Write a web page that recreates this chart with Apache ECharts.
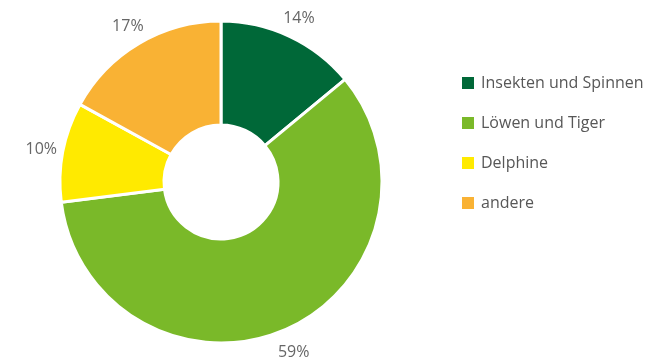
<!DOCTYPE html>
<html>
<head>
<meta charset="utf-8">
<script src="https://cdn.jsdelivr.net/npm/echarts@6/dist/echarts.min.js"></script>
<style>
  html, body { margin: 0; padding: 0; background: #fff; }
  #chart { width: 652px; height: 359px; }
</style>
</head>
<body>
<div id="chart"></div>
<script>
const categories = ['Insekten und Spinnen', 'Löwen und Tiger', 'Delphine', 'andere'];
const values = [14, 59, 10, 17];
const colors = ['#006838', '#7ab929', '#ffea00', '#f9b234'];

const myChart = echarts.init(document.getElementById('chart'));

const pieData = categories.map((name, i) => ({
  name: name,
  value: values[i],
  itemStyle: { color: colors[i] }
}));

const option = {
  animation: false,
  legend: {
    orient: 'vertical',
    left: 455,
    top: 70,
    itemWidth: 14,
    itemHeight: 14,
    itemGap: 24,
    icon: 'rect',
    data: categories,
    textStyle: {
      fontFamily: 'Open Sans',
      fontSize: 16,
      color: '#575757',
      padding: [0, 0, 0, 1]
    }
  },
  series: [
    {
      type: 'pie',
      center: [221, 182],
      radius: [57, 161],
      startAngle: 90,
      clockwise: true,
      itemStyle: { borderColor: '#fff', borderWidth: 3 },
      label: { show: false },
      labelLine: { show: false },
      data: pieData
    },
    {
      // transparent ring only to place the percentage labels
      type: 'pie',
      silent: true,
      center: [221, 184],
      radius: [168, 192],
      startAngle: 90,
      clockwise: true,
      itemStyle: { color: 'transparent' },
      label: {
        show: true,
        position: 'inside',
        formatter: '{c}%',
        fontFamily: 'Open Sans',
        fontSize: 16,
        color: '#666666'
      },
      labelLine: { show: false },
      data: categories.map((name, i) => ({ name: name, value: values[i] }))
    }
  ]
};

myChart.setOption(option);
</script>
</body>
</html>
